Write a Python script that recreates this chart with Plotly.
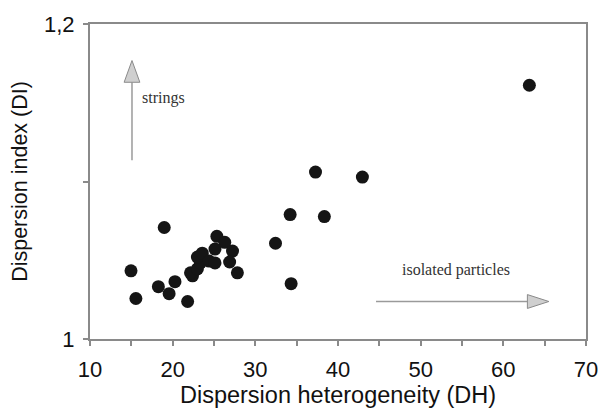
import plotly.graph_objects as go

# Data
dh = [18.98, 14.96, 15.55, 18.27, 20.28, 19.57, 21.81, 22.40, 22.16, 22.99,
      23.35, 22.99, 23.58, 24.41, 25.12, 25.35, 26.30, 25.12, 27.24, 26.89,
      27.83, 32.44, 34.21, 38.35, 34.33, 37.28, 42.95, 63.15]
di = [1.0708, 1.0433, 1.0257, 1.0332, 1.0364, 1.0288, 1.0238, 1.0401, 1.0420, 1.0445,
      1.0483, 1.0520, 1.0545, 1.0495, 1.0483, 1.0652, 1.0614, 1.0571, 1.0558, 1.0489,
      1.0420, 1.0608, 1.0790, 1.0777, 1.0351, 1.1060, 1.1028, 1.1611]

x_tickvals = [10, 20, 30, 40, 50, 60, 70]
y_tickvals = [1.0, 1.1, 1.2]
y_ticktext = ["1", "", "1,2"]

AX = "#8a8a8a"
FONT = "Arial, Liberation Sans, sans-serif"
SERIF = "Liberation Serif, Times New Roman, serif"

fig = go.Figure()
fig.add_trace(go.Scatter(
    x=dh, y=di, mode="markers",
    marker=dict(size=13, color="#151515", line=dict(width=0)),
    showlegend=False, cliponaxis=False,
))

# arrows (line + triangle head)
shapes = []
shapes.append(dict(type="line", xref="x", yref="y", x0=15.08, x1=15.08, y0=1.1135, y1=1.163,
                   line=dict(color="#9a9a9a", width=1.5)))
shapes.append(dict(type="path", xref="x", yref="y",
                   path="M 14.13 1.163 L 16.03 1.163 L 15.08 1.1768 Z",
                   fillcolor="#cfcfcf", line=dict(color="#8a8a8a", width=1)))
shapes.append(dict(type="line", xref="x", yref="y", x0=44.6, x1=62.91, y0=1.0238, y1=1.0238,
                   line=dict(color="#9a9a9a", width=1.5)))
shapes.append(dict(type="path", xref="x", yref="y",
                   path="M 62.91 1.0194 L 62.91 1.0282 L 65.51 1.0238 Z",
                   fillcolor="#cfcfcf", line=dict(color="#8a8a8a", width=1)))

annotations = [
    dict(x=18.9, y=1.153, xref="x", yref="y", text="strings", showarrow=False,
         font=dict(family=SERIF, size=16, color="#333")),
    dict(x=54.29, y=1.0439, xref="x", yref="y", text="isolated particles", showarrow=False,
         font=dict(family=SERIF, size=16, color="#333")),
]

fig.update_layout(
    width=610, height=411,
    margin=dict(l=90, r=12, t=20, b=72),
    paper_bgcolor="white", plot_bgcolor="white",
    font=dict(family=FONT, color="#111"),
    shapes=shapes, annotations=annotations,
    xaxis=dict(
        range=[10, 70], tickvals=x_tickvals,
        showgrid=False, zeroline=False,
        showline=True, linecolor=AX, linewidth=2, mirror=True,
        ticks="outside", ticklen=5, tickcolor=AX, tickwidth=1.5,
        minor=dict(dtick=5, ticks="outside", ticklen=5, tickcolor=AX, tickwidth=1.5),
        tickfont=dict(size=22, color="#111"),
        ticklabelstandoff=5,
        title=dict(text="Dispersion heterogeneity (DH)", font=dict(size=23.5, color="#111"), standoff=0),
    ),
    yaxis=dict(
        range=[1.0, 1.2], tickvals=y_tickvals, ticktext=y_ticktext,
        showgrid=False, zeroline=False,
        showline=True, linecolor=AX, linewidth=2, mirror=True,
        ticks="outside", ticklen=5, tickcolor=AX, tickwidth=1.5,
        tickfont=dict(size=22, color="#111"),
        ticklabelstandoff=4,
        title=dict(text="Dispersion index (DI)", font=dict(size=21.5, color="#111"), standoff=10),
    ),
)

fig.write_html("out.html")
